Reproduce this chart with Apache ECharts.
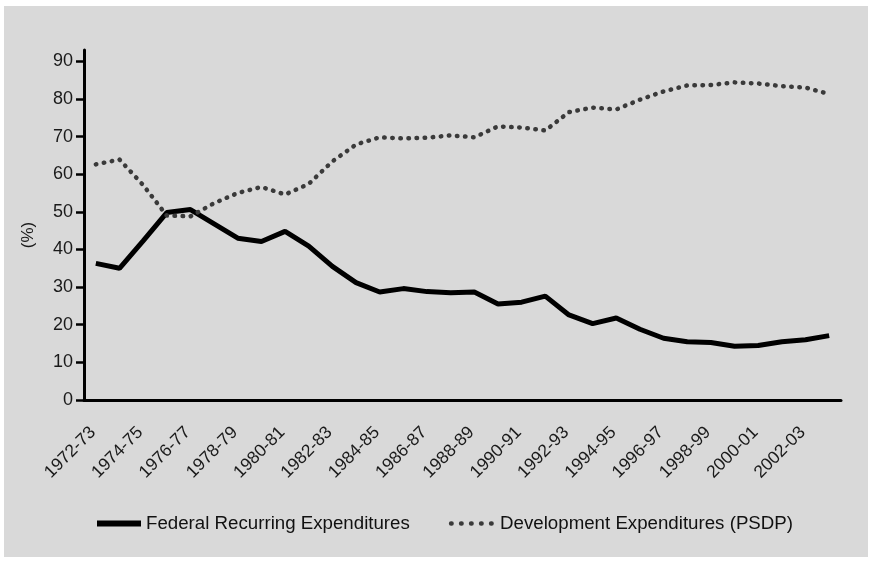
<!DOCTYPE html>
<html>
<head>
<meta charset="utf-8">
<script src="https://cdn.jsdelivr.net/npm/echarts@6/dist/echarts.min.js"></script>
<style>
  html, body { margin: 0; padding: 0; background: #ffffff; }
  #grafico { position: absolute; left: 4px; top: 6px; width: 864px; height: 551px; background: #d9d9d9; }
</style>
</head>
<body>
<div id="grafico"></div>
<script>
// anos fiscais
var anos = ['1972-73', '1973-74', '1974-75', '1975-76', '1976-77', '1977-78', '1978-79', '1979-80',
  '1980-81', '1981-82', '1982-83', '1983-84', '1984-85', '1985-86', '1986-87', '1987-88',
  '1988-89', '1989-90', '1990-91', '1991-92', '1992-93', '1993-94', '1994-95', '1995-96',
  '1996-97', '1997-98', '1998-99', '1999-00', '2000-01', '2001-02', '2002-03', '2003-04'];

// Federal Recurring Expenditures (%)
var recorrentes = [36.3, 35.0, 42.3, 49.8, 50.6, 46.8, 43.0, 42.1, 44.8, 40.9, 35.5, 31.2,
  28.7, 29.6, 28.8, 28.5, 28.7, 25.5, 26.0, 27.6, 22.6, 20.3, 21.8, 18.8,
  16.4, 15.5, 15.3, 14.3, 14.5, 15.5, 16.0, 17.1];

// Development Expenditures (PSDP) (%)
var desenvolvimento = [62.6, 63.9, 57.1, 49.0, 48.8, 52.3, 55.0, 56.6, 54.6, 57.4, 63.4, 67.9,
  69.8, 69.5, 69.7, 70.3, 69.8, 72.7, 72.4, 71.6, 76.5, 77.7, 77.2, 79.8,
  82.0, 83.6, 83.7, 84.4, 84.1, 83.4, 83.0, 81.3];

var ticksY = [0, 10, 20, 30, 40, 50, 60, 70, 80, 90];

var chartDom = document.getElementById('grafico');
var myChart = echarts.init(chartDom);
var option;
var fonte = '"Liberation Sans", Arial, sans-serif';

option = {
  backgroundColor: '#d9d9d9',
  animation: false,
  textStyle: { fontFamily: fonte },
  grid: {
    left: 80,
    right: 27,
    top: 44,
    bottom: 157
  },
  legend: {
    left: 85,
    top: 503,
    itemWidth: 44,
    itemHeight: 14,
    itemGap: 39,
    itemStyle: { opacity: 0 },
    textStyle: { fontSize: 18.7, color: '#111111', fontFamily: fonte },
    data: [
      {
        name: 'Federal Recurring Expenditures',
        lineStyle: { color: '#000000', width: 6 }
      },
      {
        name: 'Development Expenditures (PSDP)',
        lineStyle: { color: '#3a3a3a', width: 4.5, type: [0.5, 9.5], cap: 'round' }
      }
    ]
  },
  xAxis: {
    type: 'category',
    boundaryGap: true,
    data: anos,
    axisLine: { lineStyle: { color: '#000000', width: 3 } },
    axisTick: { interval: 1, length: 11, lineStyle: { color: '#000000', width: 2.5 } },
    axisLabel: {
      interval: 1,
      rotate: 45,
      margin: 27,
      padding: [0, 4, 0, 0],
      fontSize: 17.5,
      color: '#1a1a1a',
      fontFamily: fonte
    }
  },
  yAxis: {
    type: 'value',
    min: 0,
    max: 93,
    name: '(%)',
    nameLocation: 'middle',
    nameRotate: 90,
    nameGap: 47,
    nameTextStyle: { fontSize: 17, color: '#1a1a1a', fontFamily: fonte, padding: [0, 20, 0, 0] },
    splitLine: { show: false },
    axisLine: { show: true, lineStyle: { color: '#000000', width: 3 } },
    axisTick: { show: true, length: 8, customValues: ticksY, lineStyle: { color: '#000000', width: 2.5 } },
    axisLabel: { customValues: ticksY, margin: 11, fontSize: 18, color: '#1a1a1a', fontFamily: fonte }
  },
  series: [
    {
      name: 'Federal Recurring Expenditures',
      type: 'line',
      data: recorrentes,
      symbol: 'none',
      lineStyle: { color: '#000000', width: 5 },
      itemStyle: { color: '#000000' }
    },
    {
      name: 'Development Expenditures (PSDP)',
      type: 'line',
      data: desenvolvimento,
      symbol: 'none',
      lineStyle: { color: '#3a3a3a', width: 4.5, type: [0.5, 7.6], cap: 'round' },
      itemStyle: { color: '#3a3a3a' }
    }
  ]
};

option && myChart.setOption(option);
</script>
</body>
</html>
